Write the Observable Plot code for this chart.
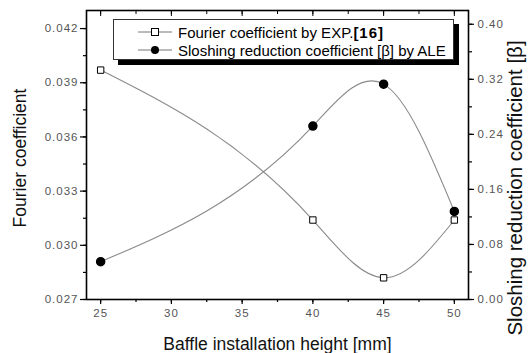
<!DOCTYPE html>
<html>
<head>
<meta charset="utf-8">
<script src="https://cdn.jsdelivr.net/npm/d3@7"></script>
<script src="https://cdn.jsdelivr.net/npm/@observablehq/plot@0.6"></script>
<style>
  html, body { margin: 0; padding: 0; background: #fff; }
  #wrap { position: relative; width: 528px; height: 353px; font-family: "Liberation Sans", Arial, sans-serif; }
  #wrap > svg { position: absolute; left: 0; top: 0; background: transparent; }
  #wrap g[aria-label="x-axis tick label"] text,
  #wrap g[aria-label="y-axis tick label"] text { letter-spacing: 1px; }
  #legend {
    position: absolute; left: 113px; top: 19px; width: 341px; height: 41px;
    border: 1px solid #333; background: #fff; box-shadow: 5px 5px 0 #000;
    font-size: 15px; color: #000; box-sizing: border-box;
  }
  #legend .row { position: absolute; left: 24px; height: 18px; display: flex; align-items: center; white-space: nowrap; }
  #legend svg { margin-right: 6px; }
</style>
</head>
<body>
<div id="wrap"></div>
<script>
// Data
const heights = [25, 40, 45, 50];
const fourier = [0.0397, 0.0314, 0.0282, 0.0314];
const sloshing = [0.055, 0.252, 0.313, 0.128];
const xTicks = [25, 30, 35, 40, 45, 50];
const leftTicks = [0.027, 0.030, 0.033, 0.036, 0.039, 0.042];
const rightTicks = [0.00, 0.08, 0.16, 0.24, 0.32, 0.40];
const legendLabels = ["Fourier coefficient by EXP.", "Sloshing reduction coefficient [\u03B2] by ALE"];

// Spline curve in x (natural cubic spline as a function of x), used as a Plot curve
function NaturalX(context) { this._context = context; }
NaturalX.prototype = {
  areaStart() { this._line = 0; },
  areaEnd() { this._line = NaN; },
  lineStart() { this._x = []; this._y = []; },
  point(x, y) { this._x.push(+x); this._y.push(+y); },
  lineEnd() {
    const x = this._x, y = this._y, n = x.length, ctx = this._context;
    if (n) {
      if (this._line) ctx.lineTo(x[0], y[0]); else ctx.moveTo(x[0], y[0]);
      if (n === 2) ctx.lineTo(x[1], y[1]);
      else if (n > 2) {
        const h = [];
        for (let i = 0; i < n - 1; i++) h.push(x[i + 1] - x[i]);
        const M = new Array(n).fill(0);
        const a = [], b = [], c = [], d = [];
        for (let i = 1; i < n - 1; i++) {
          a.push(h[i - 1]); b.push(2 * (h[i - 1] + h[i])); c.push(h[i]);
          d.push(6 * ((y[i + 1] - y[i]) / h[i] - (y[i] - y[i - 1]) / h[i - 1]));
        }
        const m = n - 2;
        for (let i = 1; i < m; i++) {
          const w = a[i] / b[i - 1];
          b[i] -= w * c[i - 1];
          d[i] -= w * d[i - 1];
        }
        const sol = new Array(m);
        sol[m - 1] = d[m - 1] / b[m - 1];
        for (let i = m - 2; i >= 0; i--) sol[i] = (d[i] - c[i] * sol[i + 1]) / b[i];
        for (let i = 0; i < m; i++) M[i + 1] = sol[i];
        for (let i = 0; i < n - 1; i++) {
          const sl = (y[i + 1] - y[i]) / h[i];
          const s0 = sl - h[i] * (2 * M[i] + M[i + 1]) / 6;
          const s1 = sl + h[i] * (M[i] + 2 * M[i + 1]) / 6;
          ctx.bezierCurveTo(x[i] + h[i] / 3, y[i] + s0 * h[i] / 3, x[i + 1] - h[i] / 3, y[i + 1] - s1 * h[i] / 3, x[i + 1], y[i + 1]);
        }
      }
    }
    if (this._line || (this._line !== 0 && n === 1)) ctx.closePath();
    this._line = 1 - this._line;
  }
};
const curveNaturalX = context => new NaturalX(context);

const W = 528, H = 353;
const margins = {marginLeft: 86, marginRight: 60, marginTop: 10, marginBottom: 54};
const xDomain = [24, 51];
const fData = heights.map((h, i) => ({x: h, y: fourier[i]}));
const sData = heights.map((h, i) => ({x: h, y: sloshing[i]}));
const xMinor = d3.range(25, 51, 2.5);
const lMinor = d3.range(0.027, 0.0431, 0.0015);
const rMinor = d3.range(0, 0.4201, 0.04);
const tickColor = "#555";
const font = "Liberation Sans, Arial, sans-serif";

const p1 = Plot.plot({
  width: W, height: H, ...margins,
  style: {fontFamily: font, background: "transparent", overflow: "visible"},
  x: {domain: xDomain},
  y: {domain: [0.027, 0.043]},
  marks: [
    Plot.axisX(xMinor, {anchor: "bottom", tickSize: 3, text: null, label: null, strokeWidth: 1.2}),
    Plot.axisX(xTicks, {anchor: "bottom", tickSize: 5, tickPadding: 4, fontSize: 11.5, color: tickColor, stroke: "#000", label: null, strokeWidth: 1.2}),
    Plot.axisX(xMinor, {anchor: "top", tickSize: -3, text: null, label: null}),
    Plot.axisX(xTicks, {anchor: "top", tickSize: -5, text: null, label: null}),
    Plot.axisY(lMinor, {anchor: "left", tickSize: 3, text: null, label: null, strokeWidth: 1.2}),
    Plot.axisY(leftTicks, {anchor: "left", tickSize: 6, tickPadding: 2, fontSize: 11.5, color: tickColor, stroke: "#000", tickFormat: d3.format(".3f"), label: null, strokeWidth: 1.2}),
    Plot.frame({stroke: "#000", strokeWidth: 1.6}),
    Plot.text(["Baffle installation height [mm]"], {frameAnchor: "bottom", lineAnchor: "middle", dy: 45, fontSize: 17.5, fill: "#111"}),
    Plot.text(["Fourier coefficient"], {frameAnchor: "left", textAnchor: "middle", lineAnchor: "middle", dx: -66, dy: 3, rotate: -90, fontSize: 17.5, fill: "#111"}),
    Plot.line(fData, {x: "x", y: "y", curve: curveNaturalX, stroke: "#8a8a8a", strokeWidth: 1.1}),
    Plot.dot(fData, {x: "x", y: "y", symbol: "square", r: 3.6, fill: "#fff", stroke: "#000", strokeWidth: 1})
  ]
});

const p2 = Plot.plot({
  width: W, height: H, ...margins,
  style: {fontFamily: font, background: "transparent", overflow: "visible"},
  x: {domain: xDomain, axis: null},
  y: {domain: [0, 0.42], axis: null},
  marks: [
    Plot.axisY(rMinor, {anchor: "right", tickSize: 3, text: null, label: null, strokeWidth: 1.2}),
    Plot.axisY(rightTicks, {anchor: "right", tickSize: 5, tickPadding: 4, fontSize: 11.5, color: tickColor, stroke: "#000", tickFormat: d3.format(".2f"), label: null, strokeWidth: 1.2}),
    Plot.text(["Sloshing reduction coefficient [\u03B2]"], {frameAnchor: "right", textAnchor: "middle", lineAnchor: "middle", dx: 47, dy: 33, rotate: -90, fontSize: 20.5, fill: "#111"}),
    Plot.line(sData, {x: "x", y: "y", curve: curveNaturalX, stroke: "#8a8a8a", strokeWidth: 1.1}),
    Plot.dot(sData, {x: "x", y: "y", r: 4, fill: "#000", stroke: "#000"})
  ]
});

const wrap = document.getElementById("wrap");
wrap.appendChild(p1);
wrap.appendChild(p2);

// Legend
const legend = document.createElement("div");
legend.id = "legend";
function sym(kind) {
  const s = kind === "square"
    ? '<rect x="13.5" y="5.5" width="7" height="7" fill="#fff" stroke="#000" stroke-width="1"/>'
    : '<circle cx="17" cy="9" r="4" fill="#000"/>';
  return `<svg width="34" height="18"><line x1="0" y1="9" x2="34" y2="9" stroke="#777" stroke-width="1"/>${s}</svg>`;
}
legend.innerHTML =
  `<div class="row" style="top:3px">${sym("square")}<span>${legendLabels[0]}<b style="letter-spacing:1px">[16]</b></span></div>` +
  `<div class="row" style="top:21px">${sym("circle")}<span>${legendLabels[1]}</span></div>`;
wrap.appendChild(legend);
</script>
</body>
</html>
